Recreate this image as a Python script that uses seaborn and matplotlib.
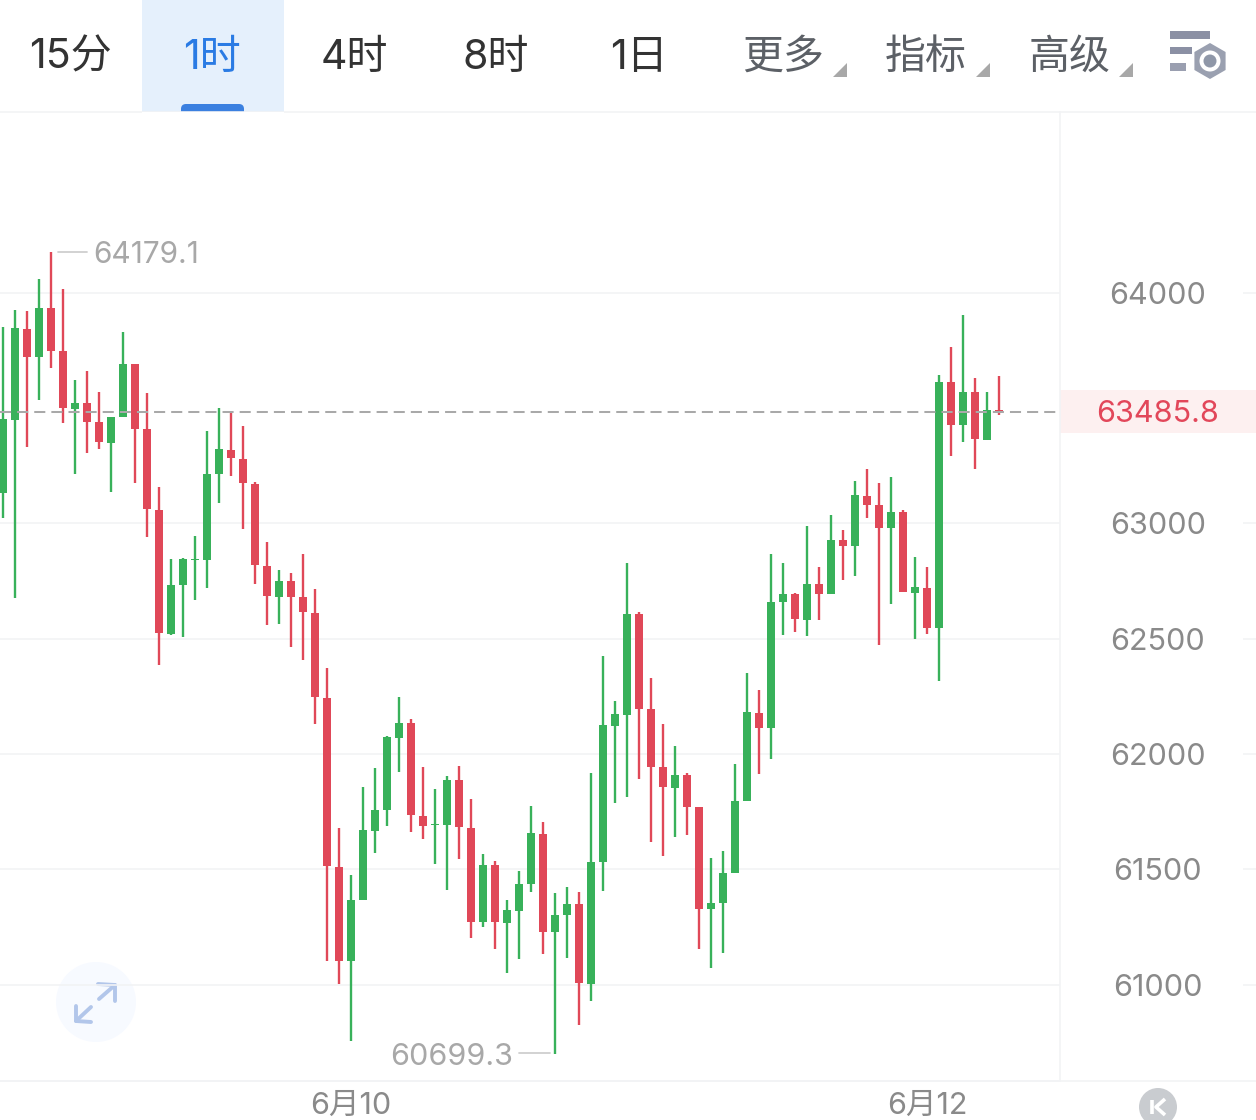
import matplotlib
matplotlib.use("Agg")
import matplotlib.pyplot as plt
import matplotlib.patches as mpatches
import matplotlib.transforms as mtrans
import numpy as np
import pandas as pd
import seaborn as sns

opens = [63132, 63449, 63844, 63722, 63935, 63748, 63497, 63523, 63440, 63349, 63462, 63692,
         63410, 63059, 62521, 62733, 62842, 62842, 63215, 63319, 63280, 63171, 62816, 62681,
         62751, 62681, 62612, 62243, 61510, 61102, 61367, 61666, 61757, 62070, 62135, 61731,
         61692, 61692, 61887, 61679, 61271, 61519, 61267, 61319, 61436, 61653, 61228, 61302,
         61349, 61002, 61532, 62122, 62169, 62608, 62195, 61944, 61853, 61909, 61770, 61328,
         61354, 61484, 61796, 62178, 62113, 62660, 62694, 62581, 62738, 62694, 62928, 62902,
         63119, 63080, 62981, 63050, 62699, 62720, 62547, 63614, 63427, 63571, 63362, 63492]
highs = [63853, 63926, 63922, 64061, 64179.1, 64017, 63623, 63662, 63571, 63462, 63831, 63692,
         63566, 63158, 62846, 62850, 62946, 63401, 63501, 63488, 63423, 63180, 62920, 62798,
         62785, 62868, 62716, 62373, 61679, 61475, 61857, 61939, 62078, 62247, 62152, 61944,
         61848, 61905, 61948, 61805, 61566, 61536, 61367, 61493, 61775, 61705, 61397, 61423,
         61402, 61918, 62425, 62230, 62829, 62616, 62330, 62130, 62035, 61918, 61770, 61549,
         61579, 61957, 62352, 62278, 62868, 62829, 62699, 62989, 62811, 63037, 62972, 63184,
         63237, 63176, 63202, 63059, 62855, 62811, 63644, 63766, 63905, 63631, 63571, 63640]
lows = [63024, 62677, 63332, 63536, 63675, 63436, 63215, 63306, 63323, 63137, 63462, 63176,
        62942, 62386, 62516, 62508, 62668, 62720, 63089, 63206, 62976, 62738, 62560, 62564,
        62464, 62408, 62130, 61102, 61002, 60755, 61367, 61571, 61688, 61922, 61662, 61631,
        61523, 61410, 61545, 61202, 61250, 61154, 61050, 61111, 61402, 61133, 60699.3, 61115,
        60825, 60929, 61406, 61788, 61814, 61892, 61618, 61558, 61640, 61649, 61154, 61072,
        61137, 61484, 61796, 61913, 61978, 62516, 62529, 62512, 62581, 62694, 62755, 62772,
        63024, 62473, 62651, 62703, 62499, 62521, 62317, 63293, 63354, 63237, 63362, 63471]
closes = [63453, 63848, 63722, 63935, 63748, 63501, 63523, 63440, 63354, 63462, 63692, 63410,
          63063, 62525, 62733, 62846, 62846, 63215, 63323, 63284, 63176, 62820, 62686, 62751,
          62681, 62616, 62247, 61514, 61102, 61367, 61670, 61757, 62074, 62135, 61736, 61688,
          61696, 61887, 61683, 61271, 61519, 61271, 61323, 61436, 61657, 61228, 61302, 61349,
          61007, 61532, 62126, 62174, 62608, 62195, 61944, 61857, 61909, 61770, 61328, 61354,
          61484, 61796, 62182, 62113, 62660, 62694, 62586, 62738, 62694, 62928, 62902, 63124,
          63080, 62981, 63050, 62703, 62725, 62547, 63614, 63427, 63571, 63367, 63492, 63485.8]

price_ticks = [61000, 61500, 62000, 62500, 63000, 64000]
date_labels = ["6月10", "6月12"]
date_candles = [29, 77]
tabs = ["15分", "1时", "4时", "8时", "1日", "更多", "指标", "高级"]
last_price = 63485.8
max_price = 64179.1
min_price = 60699.3

GREEN = "#38b15a"
RED = "#e04858"
GRID = "#f2f3f5"
FONT = ["Inter", "Noto Sans CJK SC", "DejaVu Sans"]

sns.set_theme(style="white")
plt.rcParams["font.family"] = FONT

fig = plt.figure(figsize=(12.56, 11.2), dpi=100)

# pixel canvas for the app chrome
ui = fig.add_axes([0, 0, 1, 1], zorder=0)
ui.set_xlim(0, 1256)
ui.set_ylim(1120, 0)
ui.axis("off")

ax = fig.add_axes([0, 39 / 1120, 1060 / 1256, 969 / 1120], zorder=1)
ax.patch.set_alpha(0)

df = pd.DataFrame({"open": opens, "high": highs, "low": lows, "close": closes})
df["candle"] = df.index
df["body_low"] = df[["open", "close"]].min(axis=1)
df["body_size"] = (df["close"] - df["open"]).abs()
df["up"] = df["close"] >= df["open"]

wicks = df.melt(id_vars=["candle", "up"], value_vars=["high", "low"], value_name="price")
for is_up, color in [(True, GREEN), (False, RED)]:
    part = df[df["up"] == is_up]
    sns.lineplot(data=wicks[wicks["up"] == is_up], x="candle", y="price", units="candle",
                 estimator=None, sort=False, color=color, lw=1.7, solid_capstyle="butt",
                 legend=False, ax=ax, zorder=3)
    sns.barplot(x=part["candle"].to_numpy(), y=part["body_size"].to_numpy(),
                bottom=part["body_low"].to_numpy(), native_scale=True, width=0.68,
                color=color, saturation=1, errorbar=None, linewidth=0, ax=ax, zorder=4)

ax.set_xlim(-0.25, 88.08)
ax.set_ylim(60581.6, 64785)
ax.set_xlabel("")
ax.set_ylabel("")

ax.axhline(last_price, color="#a9a9a9", lw=1.45, dashes=(5.5, 3), zorder=5)
for p in price_ticks:
    ax.axhline(p, color=GRID, lw=1.2, zorder=1)

ax.yaxis.tick_right()
ax.set_yticks(price_ticks)
ax.set_yticklabels([str(p) for p in price_ticks], ha="center")
ax.tick_params(axis="y", right=True, length=11, width=1.2, color=GRID, pad=59.5,
               labelsize=22, labelcolor="#8a8a8a")
ax.set_xticks(date_candles)
ax.set_xticklabels(date_labels)
ax.tick_params(axis="x", bottom=False, pad=2, labelsize=22, labelcolor="#8a8a8a")

sns.despine(ax=ax, top=True, left=True, right=False, bottom=False)
ax.spines["right"].set_color(GRID)
ax.spines["right"].set_linewidth(1.2)
ax.spines["bottom"].set_color(GRID)
ax.spines["bottom"].set_linewidth(1.2)

# right-edge stubs of the grid
stub = mtrans.blended_transform_factory(ui.transData, ax.transData)
ax.hlines(price_ticks, 1243, 1256, color=GRID, lw=1.2, transform=stub, clip_on=False)

# tab bar
ui.hlines([112, 1081], 0, 1256, color=GRID, lw=1.2)
ui.add_patch(mpatches.Rectangle((142, 0), 142, 112, fc="#e5f0fc", ec="none"))
ui.add_patch(mpatches.FancyBboxPatch((185, 108), 55, 8, boxstyle="round,pad=4,rounding_size=5",
                                     fc="#3b80e0", ec="none", clip_on=True))
ui.add_patch(mpatches.Rectangle((142, 112), 142, 12, fc="white", ec="none", zorder=2))
tab_x = [70, 212, 354, 496, 639, 783, 926, 1070]
tab_colors = ["#333333", "#2a7be4", "#333333", "#333333", "#333333", "#5c6066", "#5c6066", "#5c6066"]
for label, x, c in zip(tabs, tab_x, tab_colors):
    ui.text(x, 57.5, label, ha="center", va="center", fontsize=29.5, color=c)
for x in [847, 990, 1133]:
    ui.add_patch(mpatches.Polygon([(x - 14, 77), (x, 77), (x, 63)], fc="#a8a8a8", ec="none"))

# settings icon
ui.add_patch(mpatches.Rectangle((1170, 31), 40, 8, fc="#8b90a4", ec="none"))
ui.add_patch(mpatches.Rectangle((1170, 47), 22, 7, fc="#8b90a4", ec="none"))
ui.add_patch(mpatches.Rectangle((1170, 63), 16, 8, fc="#9a9fb0", ec="none"))
ui.add_patch(mpatches.RegularPolygon((1210, 61), 6, radius=18, fc="#9aa0b0", ec="none"))
ui.add_patch(mpatches.Circle((1210, 61), 10.5, fc="white", ec="none"))
ui.add_patch(mpatches.Circle((1210, 61), 6.5, fc="#8f97a8", ec="none"))

# current price flag
ui.add_patch(mpatches.Rectangle((1060, 390), 196, 43, fc="#fdf0f0", ec="none"))
ui.text(1158, 414, f"{last_price}", ha="center", va="center", fontsize=22, color="#e2475a")

# high / low marks
ui.plot([58, 87], [252, 252], color="#cfcfcf", lw=1.3)
ui.text(93, 255, f"{max_price}", ha="left", va="center", fontsize=21.5, color="#a8a8a8")
ui.plot([519, 550], [1053, 1053], color="#cfcfcf", lw=1.3)
ui.text(513, 1057, f"{min_price}", ha="right", va="center", fontsize=22, color="#a8a8a8")

# expand button
ui.add_patch(mpatches.Circle((96, 1002), 40, fc="#f7faff", ec="none"))
for xs, ys in [([99, 115], [999, 985]), ([98, 115, 115], [984, 985, 1001]),
               ([91, 76], [1007, 1021]), ([76, 76, 91], [1006, 1021, 1022])]:
    ui.plot(xs, ys, color="#b2c6ea", lw=2.8, solid_capstyle="round")

# kline toggle button
ui.add_patch(mpatches.Circle((1158, 1107), 19, fc="#c9ccd0", ec="none"))
ui.plot([1152, 1152], [1100, 1114], color="white", lw=2.6, solid_capstyle="butt")
ui.plot([1165, 1156, 1165], [1099, 1107, 1115], color="white", lw=2.6, solid_capstyle="butt")

fig.savefig("out.png", dpi=100)
